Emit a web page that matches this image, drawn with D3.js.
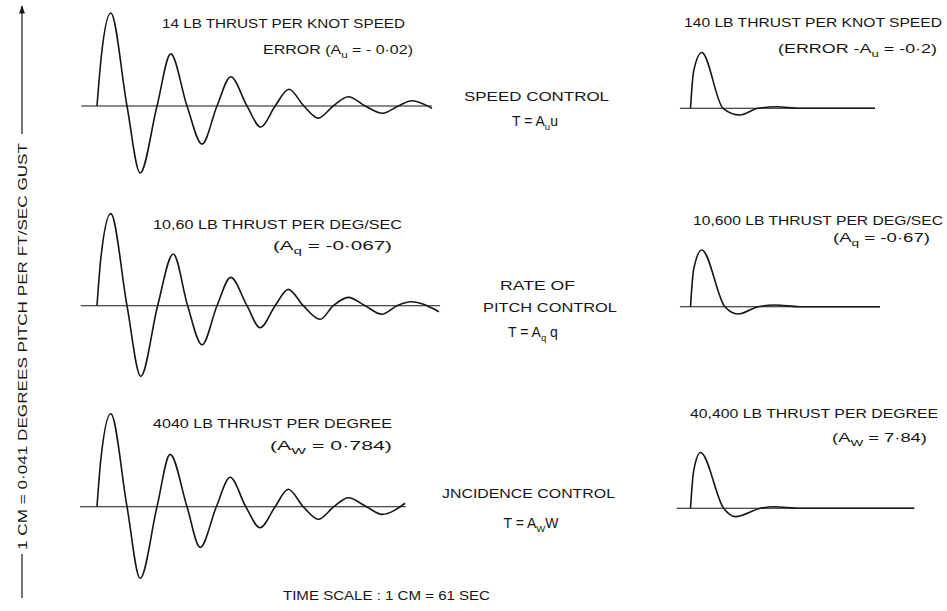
<!DOCTYPE html>
<html>
<head>
<meta charset="utf-8">
<script src="https://cdn.jsdelivr.net/npm/d3@7"></script>
<style>
  html, body { margin: 0; padding: 0; background: #fff; }
  svg { display: block; }
</style>
</head>
<body>
<div id="chart"></div>
<script>
// ---------------- DATA ----------------
// time in seconds after the gust, pitch response normalised to the first peak of the weak-control case
const timeSpeedWeak  = [0, 7, 22, 48, 69, 96, 118, 144, 168, 192, 214, 240, 262, 285, 307, 331, 354, 378, 402, 429, 457, 482, 504, 536];
const pitchSpeedWeak = [0, 0.54, 1.00, 0, -0.72, 0, 0.56, 0, -0.41, 0, 0.315, 0, -0.226, 0, 0.18, 0, -0.13, 0, 0.10, 0, -0.078, 0, 0.057, -0.025];

const timeRateWeak  = [0, 6, 22, 48, 70, 97, 122, 145, 168, 192, 214, 240, 261, 285, 306, 330, 357, 378, 402, 429, 456, 480, 502, 547];
const pitchRateWeak = [0, 0.50, 0.99, 0, -0.76, 0, 0.556, 0, -0.42, 0, 0.305, 0, -0.237, 0, 0.176, 0, -0.146, 0, 0.09, 0, -0.092, 0, 0.043, -0.065];

const timeIncWeak  = [0, 6, 22, 48, 69, 96, 117, 144, 165, 191, 213, 238, 261, 285, 306, 330, 354, 379, 402, 431, 456, 493];
const pitchIncWeak = [0, 0.50, 1.00, 0, -0.77, 0, 0.563, 0, -0.437, 0, 0.316, 0, -0.226, 0, 0.187, 0, -0.135, 0, 0.097, 0, -0.082, 0.037];

const timeSpeedStrong  = [0, 5, 18, 52, 79, 108, 138, 175, 295];
const pitchSpeedStrong = [0, 0.40, 0.60, 0, -0.072, 0, 0.017, 0, 0];

const timeRateStrong  = [0, 5, 18, 55, 76, 108, 135, 175, 303];
const pitchRateStrong = [0, 0.40, 0.61, 0, -0.078, 0, 0.018, 0, 0];

const timeIncStrong  = [0, 5, 16, 53, 72, 112, 133, 176, 358];
const pitchIncStrong = [0, 0.40, 0.60, 0, -0.09, 0, 0.017, 0, 0];

// time extent of each drawn zero line [from, to]
const zeroLineLeft  = [[-25, 536], [-26, 549], [-27, 494]];
const zeroLineRight = [[-17, 295], [-17, 303], [-22, 358]];

// labels
const labelsWeakTop    = ["14 LB THRUST PER KNOT SPEED", "10,60 LB THRUST PER DEG/SEC", "4040 LB THRUST PER DEGREE"];
const labelsStrongTop  = ["140 LB THRUST PER KNOT SPEED", "10,600 LB THRUST PER DEG/SEC", "40,400 LB THRUST PER DEGREE"];
const labelsWeakCoef   = [[["ERROR (A", 0], ["u", 1], [" = - 0·02)", 0]],
                          [["(A", 0], ["q", 1], [" = -0·067)", 0]],
                          [["(A", 0], ["W", 1], [" = 0·784)", 0]]];
const labelsStrongCoef = [[["(ERROR -A", 0], ["u", 1], [" = -0·2)", 0]],
                          [["(A", 0], ["q", 1], [" = -0·67)", 0]],
                          [["(A", 0], ["W", 1], [" = 7·84)", 0]]];
const controlNames   = [["SPEED  CONTROL"], ["RATE  OF", "PITCH  CONTROL"], ["JNCIDENCE  CONTROL"]];
const controlLaws    = [[["T = A", 0], ["u", 1], ["u", 0]],
                        [["T = A", 0], ["q", 1], [" q", 0]],
                        [["T = A", 0], ["W", 1], ["W", 0]]];
const timeScaleText  = "TIME  SCALE : 1 CM = 61 SEC";
const yAxisText      = "1 CM = 0·041 DEGREES PITCH PER FT/SEC GUST";

// ---------------- LAYOUT ----------------
const W = 947, H = 611;
const INK = "#161616";
const FONT = "'Liberation Sans', Arial, sans-serif";

const svg = d3.select("#chart").append("svg")
  .attr("width", W).attr("height", H)
  .attr("viewBox", `0 0 ${W} ${H}`);

svg.append("rect").attr("width", W).attr("height", H).attr("fill", "#fff");

const xLeft  = d3.scaleLinear().domain([0, 500]).range([97, 97 + 500 / 1.6]);
const xRight = d3.scaleLinear().domain([0, 300]).range([690.5, 690.5 + 300 / 1.6]);

const baseLeft  = [106, 305.7, 506.7];
const baseRight = [108.3, 306.7, 508.3];
const ampPx = 93;
const yScaleFor = b => d3.scaleLinear().domain([-1, 1]).range([b + ampPx, b - ampPx]);

const weakSeries   = [[timeSpeedWeak, pitchSpeedWeak], [timeRateWeak, pitchRateWeak], [timeIncWeak, pitchIncWeak]];
const strongSeries = [[timeSpeedStrong, pitchSpeedStrong], [timeRateStrong, pitchRateStrong], [timeIncStrong, pitchIncStrong]];

function drawPanel(x, y, series, ext) {
  const g = svg.append("g");
  g.append("line")
    .attr("x1", x(ext[0])).attr("x2", x(ext[1]))
    .attr("y1", y(0)).attr("y2", y(0))
    .attr("stroke", INK).attr("stroke-width", 1.1);
  const pts = series[0].map((t, i) => [t, series[1][i]]);
  const line = d3.line().x(d => x(d[0])).y(d => y(d[1])).curve(d3.curveMonotoneX);
  g.append("path").datum(pts)
    .attr("d", line)
    .attr("fill", "none")
    .attr("stroke", INK)
    .attr("stroke-width", 1.6)
    .attr("stroke-linejoin", "round");
}

for (let i = 0; i < 3; i++) {
  drawPanel(xLeft, yScaleFor(baseLeft[i]), weakSeries[i], zeroLineLeft[i]);
  drawPanel(xRight, yScaleFor(baseRight[i]), strongSeries[i], zeroLineRight[i]);
}

// ---------------- TEXT ----------------
function plainText(str, x, y, len, anchor) {
  const t = svg.append("text")
    .attr("x", x).attr("y", y)
    .attr("font-family", FONT).attr("font-size", 13)
    .attr("fill", INK)
    .attr("text-anchor", anchor || "start")
    .text(str);
  if (len) t.attr("textLength", len).attr("lengthAdjust", "spacingAndGlyphs");
  return t;
}
function richText(parts, x, y, len, anchor, size) {
  const t = svg.append("text")
    .attr("x", x).attr("y", y)
    .attr("font-family", FONT).attr("font-size", size || 13)
    .attr("fill", INK)
    .attr("text-anchor", anchor || "start");
  let shifted = false;
  parts.forEach(([s, sub]) => {
    const ts = t.append("tspan").text(s);
    if (sub && !shifted) { ts.attr("dy", 4).attr("font-size", 9.5); shifted = true; }
    else if (!sub && shifted) { ts.attr("dy", -4); shifted = false; }
  });
  if (len) t.attr("textLength", len).attr("lengthAdjust", "spacingAndGlyphs");
  return t;
}

// left labels
const weakTopPos  = [[162, 28, 243], [153, 229.3, 249], [153, 427.7, 239]];
const weakCoefPos = [[263, 54, 150], [273, 250, 119], [270, 450, 122]];
const strongTopPos  = [[684, 27, 258], [693, 225, 250], [690, 418, 248]];
const strongCoefPos = [[778, 53, 159], [833, 241.5, 97], [832, 441.5, 95]];

labelsWeakTop.forEach((s, i) => plainText(s, weakTopPos[i][0], weakTopPos[i][1], weakTopPos[i][2]));
labelsWeakCoef.forEach((p, i) => richText(p, weakCoefPos[i][0], weakCoefPos[i][1], weakCoefPos[i][2]));
labelsStrongTop.forEach((s, i) => plainText(s, strongTopPos[i][0], strongTopPos[i][1], strongTopPos[i][2]));
labelsStrongCoef.forEach((p, i) => richText(p, strongCoefPos[i][0], strongCoefPos[i][1], strongCoefPos[i][2]));

// middle control names
const namePos = [
  [[464, 101, 145]],
  [[500, 290, 75], [483, 312, 134]],
  [[442, 498, 173]]
];
controlNames.forEach((lines, i) => lines.forEach((s, j) => plainText(s, namePos[i][j][0], namePos[i][j][1], namePos[i][j][2])));
const lawPos = [[535, 126], [533, 336.7], [531, 528]];
controlLaws.forEach((p, i) => richText(p, lawPos[i][0], lawPos[i][1], null, "middle", 14));

// time scale
plainText(timeScaleText, 283, 600, 207).attr("font-size", 12);

// vertical axis label with arrow
const ax = 22;
svg.append("defs").append("marker")
  .attr("id", "arr").attr("viewBox", "0 0 10 10").attr("refX", 9).attr("refY", 5)
  .attr("markerWidth", 7).attr("markerHeight", 7).attr("orient", "auto")
  .append("path").attr("d", "M0,1.5 L10,5 L0,8.5 Z").attr("fill", INK);
svg.append("line").attr("x1", ax).attr("x2", ax).attr("y1", 134).attr("y2", 6)
  .attr("stroke", INK).attr("stroke-width", 1.2).attr("marker-end", "url(#arr)");
svg.append("line").attr("x1", ax).attr("x2", ax).attr("y1", 598).attr("y2", 554)
  .attr("stroke", INK).attr("stroke-width", 1.2);
svg.append("text")
  .attr("transform", `translate(${ax + 5},550) rotate(-90)`)
  .attr("font-family", FONT).attr("font-size", 13).attr("fill", INK)
  .attr("textLength", 407).attr("lengthAdjust", "spacingAndGlyphs")
  .text(yAxisText);
</script>
</body>
</html>
